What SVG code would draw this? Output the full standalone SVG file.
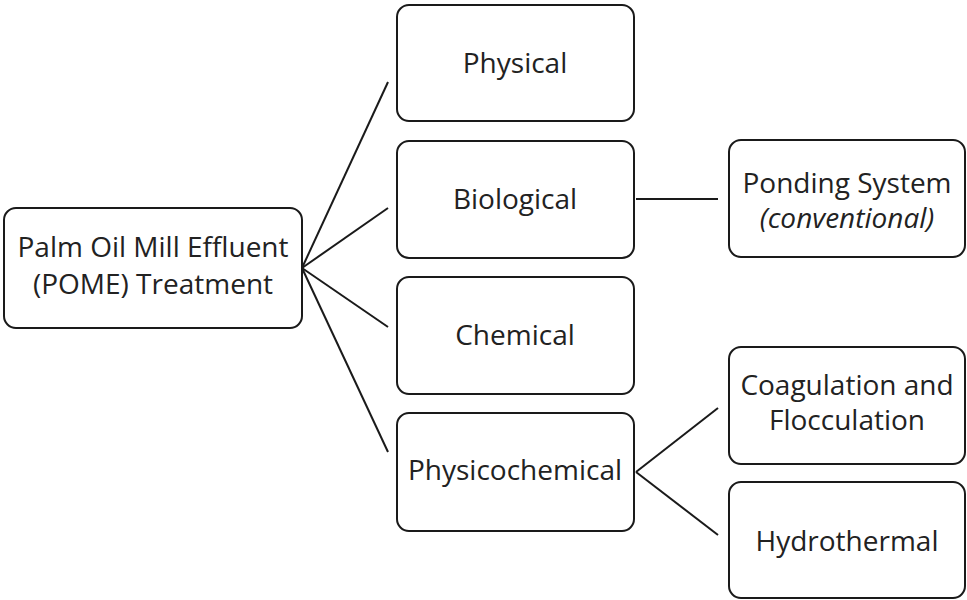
<svg xmlns="http://www.w3.org/2000/svg" width="967" height="600" viewBox="0 0 967 600">
<style>
.box{fill:#fff;stroke:#1a1a1a;stroke-width:2}
.t{font-family:"Open Sans","Liberation Sans",Arial,sans-serif;font-size:28px;fill:#222;text-anchor:middle}
.i{font-style:italic}
.c{stroke:#1a1a1a;stroke-width:2;fill:none}
</style>
<rect width="967" height="600" fill="#fff"/>
<g id="connectors">
<line class="c" x1="302" y1="268" x2="388" y2="82"/>
<line class="c" x1="302" y1="268" x2="388" y2="208"/>
<line class="c" x1="302" y1="268" x2="388" y2="327"/>
<line class="c" x1="302" y1="268" x2="388" y2="452"/>
<line class="c" x1="636" y1="199" x2="718" y2="199"/>
<line class="c" x1="636" y1="472" x2="718" y2="408"/>
<line class="c" x1="636" y1="472" x2="718" y2="535"/>
</g>
<g id="root"><rect class="box" x="4" y="208" width="298" height="120" rx="12"/>
<text class="t" x="153" y="257">Palm Oil Mill Effluent</text><text class="t" x="153" y="294">(POME) Treatment</text></g>
<g id="physical"><rect class="box" x="397" y="5" width="237" height="116" rx="12"/><text class="t" x="515" y="73">Physical</text></g>
<g id="biological"><rect class="box" x="397" y="141" width="237" height="117" rx="12"/><text class="t" x="515" y="209">Biological</text></g>
<g id="chemical"><rect class="box" x="397" y="277" width="237" height="117" rx="12"/><text class="t" x="515" y="345">Chemical</text></g>
<g id="physicochemical"><rect class="box" x="397" y="413" width="237" height="118" rx="12"/><text class="t" x="515" y="480">Physicochemical</text></g>
<g id="ponding"><rect class="box" x="729" y="140" width="236" height="117" rx="12"/><text class="t" x="847" y="193">Ponding System</text><text class="t i" x="847" y="228">(conventional)</text></g>
<g id="coagulation"><rect class="box" x="729" y="347" width="236" height="117" rx="12"/><text class="t" x="847" y="395">Coagulation and</text><text class="t" x="847" y="430">Flocculation</text></g>
<g id="hydrothermal"><rect class="box" x="729" y="482" width="236" height="116" rx="12"/><text class="t" x="847" y="551">Hydrothermal</text></g>
</svg>
